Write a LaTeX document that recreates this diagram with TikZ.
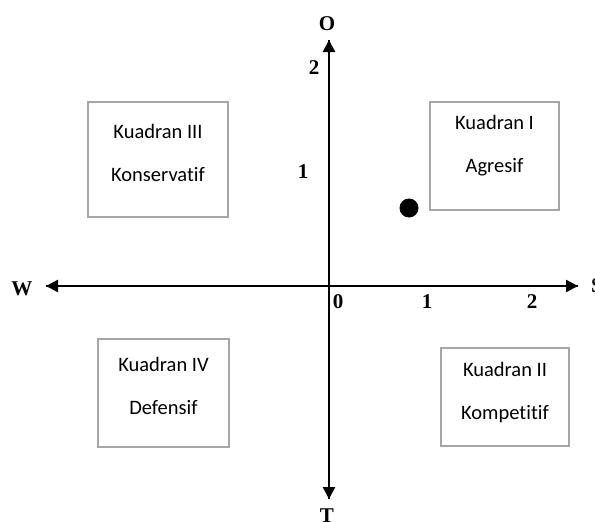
\documentclass[tikz,border=0pt]{standalone}
\usepackage{fontspec}
\setmainfont{Liberation Serif}
\newfontfamily\boxfont[Ligatures=NoCommon]{Carlito}
\usetikzlibrary{arrows.meta}
\definecolor{boxgray}{HTML}{A6A6A6}
\tikzset{
  axis/.style={line width=2.5pt, -{Triangle[length=12pt,width=12pt]}},
  quadbox/.style={draw=boxgray, line width=1.6pt, rectangle, inner sep=0pt},
  qtext/.style={align=center, font=\boxfont\fontsize{20.5}{43}\selectfont, inner sep=0pt},
  axlabel/.style={font=\bfseries\fontsize{21}{25}\selectfont, inner sep=0pt},
  tick/.style={font=\bfseries\fontsize{21}{25}\selectfont, inner sep=0pt},
}
\begin{document}
\begin{tikzpicture}[x=1pt, y=-1pt]
  \useasboundingbox (0,0) rectangle (595,522);

  % axis end points
  \coordinate (top) at (329,40);
  \coordinate (bottom) at (329,499);
  \coordinate (left) at (46,286);
  \coordinate (right) at (578,286);

  \draw[axis] (bottom) -- (top);
  \draw[axis] (top) -- (bottom);
  \draw[axis] (right) -- (left);
  \draw[axis] (left) -- (right);

  % axis names
  \node[axlabel] (lO) at (327,24) {O};
  \node[axlabel] (lT) at (327,516) {T};
  \node[axlabel] (lW) at (22,289) {W};
  \node[axlabel] (lS) at (597,286) {S};

  % scale values
  \node[tick] (y2) at (314,68) {2};
  \node[tick] (y1) at (303,172) {1};
  \node[tick] (x0) at (338,302) {0};
  \node[tick] (x1) at (427,302) {1};
  \node[tick] (x2) at (532,302) {2};

  % position point
  \fill (409,208) circle[radius=9.5];

  % quadrant boxes
  \node[quadbox, minimum width=140pt, minimum height=115pt] (q3) at (158,159.5) {};
  \node[qtext] (q3t) at (158,152.5) {Kuadran III\\Konservatif};

  \node[quadbox, minimum width=129pt, minimum height=108pt] (q1) at (494.5,156) {};
  \node[qtext] (q1t) at (494.5,145.5) {Kuadran I\\Agresif};

  \node[quadbox, minimum width=131pt, minimum height=108pt] (q4) at (163.5,393) {};
  \node[qtext] (q4t) at (163.5,385.5) {Kuadran IV\\Defensif};

  \node[quadbox, minimum width=128pt, minimum height=98pt] (q2) at (505,397) {};
  \node[qtext] (q2t) at (505,393) {Kuadran II\\Kompetitif};
\end{tikzpicture}
\end{document}
